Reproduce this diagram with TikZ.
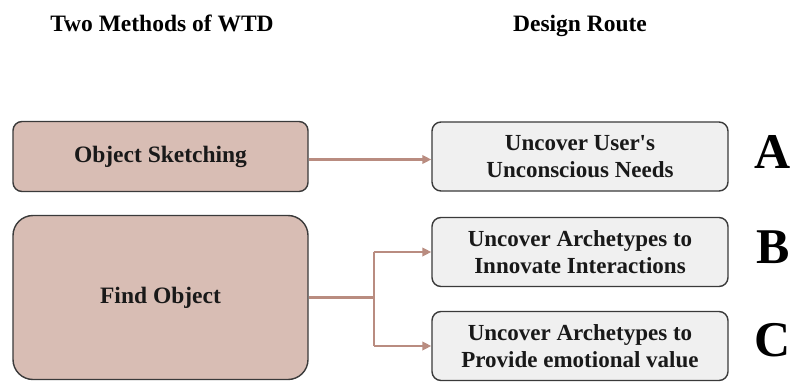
\documentclass[tikz,border=0pt]{standalone}
\usepackage{fontspec}
\setmainfont{Liberation Serif}
\usetikzlibrary{arrows.meta}
\definecolor{methodfill}{HTML}{D8BDB4}
\definecolor{routefill}{HTML}{F0F0F0}
\definecolor{boxline}{HTML}{3A3A3A}
\definecolor{linkcol}{HTML}{B98C80}
\tikzset{
  heading/.style={font=\fontsize{23.5}{27}\selectfont\bfseries, text=black, inner sep=0pt, anchor=base},
  methodbox/.style={draw=boxline, line width=1.4pt, fill=methodfill, rounded corners=9pt,
    font=\fontsize{23.5}{27}\selectfont\bfseries, text=black!90, align=center,
    minimum width=295pt, inner sep=0pt},
  routebox/.style={draw=boxline, line width=1.4pt, fill=routefill, rounded corners=9pt,
    font=\fontsize{23}{27}\selectfont\bfseries, text=black!90, align=center,
    minimum width=296pt, minimum height=69pt, inner sep=0pt},
  tag/.style={font=\fontsize{50}{50}\selectfont\bfseries, text=black, inner sep=0pt, anchor=base},
  link/.style={draw=linkcol, line width=2.2pt, -{Triangle[length=9pt,width=8.5pt]}},
  trunk/.style={draw=linkcol, line width=2.2pt},
}
\begin{document}
\begin{tikzpicture}[x=1pt, y=-1pt]
\useasboundingbox (0,0) rectangle (791,382);
\fill[white] (0,0) rectangle (791,382);

% column headings
\node[heading] (h1) at (162,32) {Two Methods of WTD};
\node[heading] (h2) at (580,32) {Design Route};

% methods
\node[methodbox, minimum height=70pt] (os) at (160.5,156.5) {Object Sketching};
\node[methodbox, minimum height=164pt, rounded corners=20pt] (fo) at (160.5,297.5) {Find Object};

% design routes
\node[routebox] (ra) at (580,156.5) {Uncover User\textquotesingle s\\Unconscious Needs};
\node[routebox] (rb) at (580,252) {Uncover Archetypes to\\Innovate Interactions};
\node[routebox] (rc) at (580,346) {Uncover Archetypes to\\Provide emotional value};

% route labels
\node[tag] (ta) at (773,168) {A};
\node[tag] (tb) at (773,263) {B};
\node[tag] (tc) at (773,356) {C};

% connectors
\draw[link] ([yshift=-3pt]os.east) -- ([yshift=-3pt]ra.west);
\coordinate (j) at ([xshift=65pt]fo.east);
\draw[trunk] (fo.east) -- (j);
\draw[trunk] (j |- rb.west) -- (j |- rc.west);
\draw[link] (j |- rb.west) -- (rb.west);
\draw[link] (j |- rc.west) -- (rc.west);
\end{tikzpicture}
\end{document}
